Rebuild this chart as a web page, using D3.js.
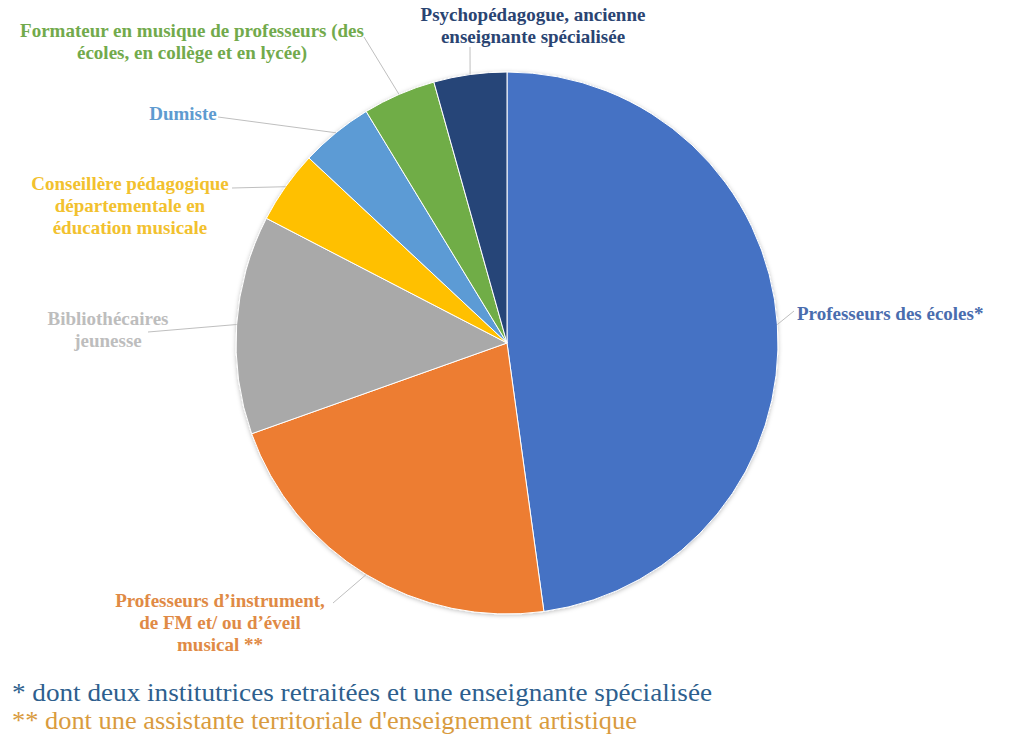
<!DOCTYPE html>
<html>
<head>
<meta charset="utf-8">
<script src="https://cdn.jsdelivr.net/npm/d3@7"></script>
<style>
  body { margin: 0; background: #fff; }
</style>
</head>
<body>
<div id="chart"></div>
<script>
// data
const categories = [
  "Professeurs des écoles*",
  "Professeurs d’instrument, de FM et/ ou d’éveil musical **",
  "Bibliothécaires jeunesse",
  "Conseillère pédagogique départementale en éducation musicale",
  "Dumiste",
  "Formateur en musique de professeurs (des écoles, en collège et en lycée)",
  "Psychopédagogue, ancienne enseignante spécialisée"
];
const counts = [11, 5, 3, 1, 1, 1, 1];
const labelLines = [
  ["Professeurs des écoles*"],
  ["Professeurs d’instrument,", "de FM et/ ou d’éveil", "musical **"],
  ["Bibliothécaires", "jeunesse"],
  ["Conseillère pédagogique", "départementale en", "éducation musicale"],
  ["Dumiste"],
  ["Formateur en musique de professeurs (des", "écoles, en collège et en lycée)"],
  ["Psychopédagogue, ancienne", "enseignante spécialisée"]
];
const footnotes = [
  "* dont deux institutrices retraitées et une enseignante spécialisée",
  "** dont une assistante territoriale d'enseignement artistique"
];

// layout / style
const W = 1024, H = 746;
const cx = 507, cy = 343, R = 271;
const fontName = "Liberation Serif";
const sliceColors = ["#4472C4", "#ED7D31", "#A9A9A9", "#FFC000", "#5B9BD5", "#70AD47", "#264478"];
const textColors = ["#4A6DAE", "#E08A45", "#BDBDBD", "#F2C12E", "#5E9BD0", "#72AA4C", "#2A4472"];
const labelPos = [
  {x: 797, y: 320, anchor: "start", lx: 794, ly: 311},
  {x: 220, y: 607, anchor: "middle", lx: 333, ly: 603},
  {x: 108, y: 325, anchor: "middle", lx: 148, ly: 332},
  {x: 130, y: 190, anchor: "middle", lx: 232, ly: 188},
  {x: 183, y: 120, anchor: "middle", lx: 218, ly: 117},
  {x: 192, y: 37, anchor: "middle", lx: 364, ly: 37},
  {x: 533, y: 21, anchor: "middle", lx: 470, ly: 47}
];
const footWidths = [700, 625];

const svg = d3.select("#chart").append("svg")
  .attr("width", W).attr("height", H);

const shadow = svg.append("defs").append("filter").attr("id", "shadow")
  .attr("x", "-10%").attr("y", "-10%").attr("width", "120%").attr("height", "120%");
shadow.append("feDropShadow").attr("dx", 0).attr("dy", 1).attr("stdDeviation", 2)
  .attr("flood-color", "#000").attr("flood-opacity", 0.25);

const pie = d3.pie().sort(null).value(d => d);
const arcs = pie(counts);
const arc = d3.arc().innerRadius(0).outerRadius(R);
const edge = d3.arc().innerRadius(R).outerRadius(R);

const g = svg.append("g").attr("transform", `translate(${cx},${cy})`);

g.append("g").attr("filter", "url(#shadow)")
  .selectAll("path")
  .data(arcs).enter()
  .append("path")
  .attr("d", arc)
  .attr("fill", (d, i) => sliceColors[i])
  .attr("stroke", "#ffffff")
  .attr("stroke-width", 1);

// leader lines
svg.append("g")
  .selectAll("line")
  .data(arcs).enter()
  .append("line")
  .attr("x1", (d, i) => labelPos[i].lx)
  .attr("y1", (d, i) => labelPos[i].ly)
  .attr("x2", d => cx + edge.centroid(d)[0])
  .attr("y2", d => cy + edge.centroid(d)[1])
  .attr("stroke", "#BFBFBF")
  .attr("stroke-width", 1);

// labels
const labels = svg.append("g")
  .selectAll("text")
  .data(arcs).enter()
  .append("text")
  .attr("text-anchor", (d, i) => labelPos[i].anchor)
  .attr("font-size", 19)
  .attr("font-weight", "bold")
  .style("font-family", fontName)
  .attr("fill", (d, i) => textColors[i]);

labels.each(function(d, i) {
  const t = d3.select(this);
  labelLines[i].forEach((line, j) => {
    t.append("tspan")
      .attr("x", labelPos[i].x)
      .attr("y", labelPos[i].y + j * 22)
      .text(line);
  });
});

// footnotes
svg.append("g")
  .selectAll("text")
  .data(footnotes).enter()
  .append("text")
  .attr("x", 12)
  .attr("y", (d, i) => 701 + i * 28)
  .attr("font-size", 26)
  .style("font-family", fontName)
  .attr("textLength", (d, i) => footWidths[i])
  .attr("lengthAdjust", "spacingAndGlyphs")
  .attr("fill", (d, i) => i === 0 ? "#2E5F8E" : "#D99B3E")
  .text(d => d);
</script>
</body>
</html>
